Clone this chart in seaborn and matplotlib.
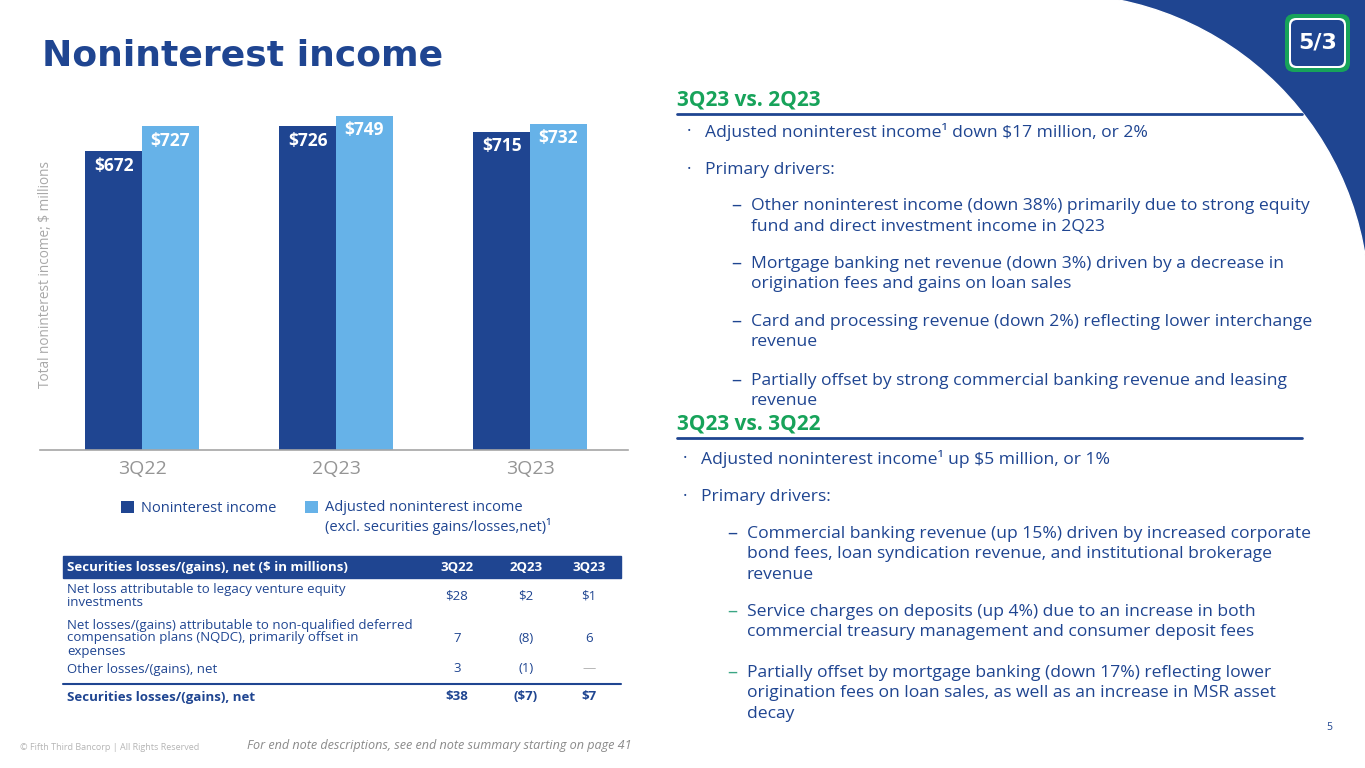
import numpy as np
import pandas as pd
import matplotlib
matplotlib.use('Agg')
import matplotlib.pyplot as plt
import seaborn as sns
from matplotlib.patches import Rectangle, Circle, FancyBboxPatch

# --- data -------------------------------------------------------------
quarters = ['3Q22', '2Q23', '3Q23']
noninterest_income = [672, 726, 715]
adjusted_income = [727, 749, 732]
# trailing newline on the first name keeps both legend entries top-aligned
series_names = ['Noninterest income\n ',
                'Adjusted noninterest income\n(excl. securities gains/losses,net)¹']

table_header = 'Securities losses/(gains), net ($ in millions)'
table_cols = ['3Q22', '2Q23', '3Q23']
table_rows = [
    ['Net loss attributable to legacy venture equity', 'investments'],
    ['Net losses/(gains) attributable to non-qualified deferred',
     'compensation plans (NQDC), primarily offset in', 'expenses'],
    ['Other losses/(gains), net'],
]
table_values = [['$28', '$2', '$1'], ['7', '(8)', '6'], ['3', '(1)', '—']]
total_label = 'Securities losses/(gains), net'
table_total = ['$38', '($7)', '$7']

sec1_title = '3Q23 vs. 2Q23'
sec1_items = [
    ('bullet', ['Adjusted noninterest income¹ down $17 million, or 2%']),
    ('bullet', ['Primary drivers:']),
    ('dash', ['Other noninterest income (down 38%) primarily due to strong equity',
              'fund and direct investment income in 2Q23']),
    ('dash', ['Mortgage banking net revenue (down 3%) driven by a decrease in',
              'origination fees and gains on loan sales']),
    ('dash', ['Card and processing revenue (down 2%) reflecting lower interchange',
              'revenue']),
    ('dash', ['Partially offset by strong commercial banking revenue and leasing',
              'revenue']),
]
sec1_y = [132, 170, 206, 264, 322, 381]

sec2_title = '3Q23 vs. 3Q22'
sec2_items = [
    ('bullet', ['Adjusted noninterest income¹ up $5 million, or 1%']),
    ('bullet', ['Primary drivers:']),
    ('dash', ['Commercial banking revenue (up 15%) driven by increased corporate',
              'bond fees, loan syndication revenue, and institutional brokerage',
              'revenue']),
    ('dash2', ['Service charges on deposits (up 4%) due to an increase in both',
               'commercial treasury management and consumer deposit fees']),
    ('dash2', ['Partially offset by mortgage banking (down 17%) reflecting lower',
               'origination fees on loan sales, as well as an increase in MSR asset',
               'decay']),
]
sec2_y = [459, 497, 534, 612, 673]

# --- style ------------------------------------------------------------
DARK = '#1f4591'
LIGHT = '#66b2e8'
GREEN = '#17a35a'
TEAL = '#3aa684'
GRAY = '#8a8a8a'

sns.set_theme(style='white')
plt.rcParams['font.family'] = ['Open Sans', 'DejaVu Sans']

W, H = 1365, 768
fig = plt.figure(figsize=(W / 100, H / 100), dpi=100)

# background axes in pixel units for slide decoration and text
bg = fig.add_axes([0, 0, 1, 1], zorder=0)
bg.set_xlim(0, W)
bg.set_ylim(H, 0)
bg.axis('off')

# blue corner cut by a big white arc
bg.add_patch(Rectangle((1100, 0), 265, 262, color=DARK, zorder=1))
bg.add_patch(Circle((1058, 305), 311, color='white', zorder=2))

# logo
bg.add_patch(FancyBboxPatch((1285, 14), 65, 58, boxstyle='round,pad=0,rounding_size=9',
                            fc=GREEN, ec='none', zorder=3))
bg.add_patch(FancyBboxPatch((1289, 18), 57, 50, boxstyle='round,pad=0,rounding_size=7',
                            fc='white', ec='none', zorder=3))
bg.add_patch(FancyBboxPatch((1291, 20), 53, 46, boxstyle='round,pad=0,rounding_size=6',
                            fc=DARK, ec='none', zorder=3))
bg.text(1318, 43, '5/3', color='white', fontsize=16, fontweight='bold',
        family='DejaVu Sans', ha='center', va='center', zorder=4)

# title
bg.text(42, 55, 'Noninterest income', color=DARK, fontsize=26, fontweight='bold',
        family='DejaVu Sans', ha='left', va='center', zorder=5)

# --- bar chart --------------------------------------------------------
df = pd.DataFrame({
    'quarter': quarters * 2,
    'series': [series_names[0]] * 3 + [series_names[1]] * 3,
    'value': noninterest_income + adjusted_income,
})

ax = fig.add_axes([40 / W, 1 - 450 / H, 588 / W, 350 / H], zorder=2)
ax.patch.set_alpha(0)
sns.barplot(data=df, x='quarter', y='value', hue='series', palette=[DARK, LIGHT],
            width=0.585, gap=0, saturation=1, errorbar=None, linewidth=0, ax=ax)
ax.set_xlim(-0.526, 2.505)
ax.set_ylim(28, 783)
ax.set_yticks([])
ax.set_xlabel('')
ax.set_ylabel('Total noninterest income; $ millions', color='#a8a8a8', fontsize=9.8)
ax.yaxis.set_label_coords(0.022, 0.5)
for s in ['top', 'right', 'left']:
    ax.spines[s].set_visible(False)
ax.spines['bottom'].set_color('#a6a6a6')
ax.spines['bottom'].set_linewidth(1.2)
ax.tick_params(axis='x', length=0, labelsize=14, labelcolor='#959595', pad=7)

for cont in ax.containers:
    for bar in cont:
        h = bar.get_height()
        ax.annotate(f'${h:.0f}', xy=(bar.get_x() + bar.get_width() / 2, h),
                    xytext=(0, -10.5), textcoords='offset points',
                    ha='center', va='center', color='white', fontsize=12.5,
                    fontweight='bold')

handles, labels = ax.get_legend_handles_labels()
leg = ax.legend(handles, labels, loc='upper left', bbox_to_anchor=(121 / W, 1 - 500 / H),
                bbox_transform=fig.transFigure, ncol=2, frameon=False, fontsize=10.5,
                labelcolor=DARK, handlelength=0.9, handleheight=0.9,
                handletextpad=0.5, columnspacing=1.9, borderpad=0, borderaxespad=0)
# keep the squares level with the first line of text
for hb in leg.legend_handles:
    hb.set_y(hb.get_y() + 7.5)

# --- table ------------------------------------------------------------
col_x = [457, 526, 589]
bg.add_patch(Rectangle((63, 556), 558, 22, color=DARK, zorder=3))
bg.text(67, 567.5, table_header, color='white', fontsize=9.5, fontweight='bold',
        va='center', zorder=4)
for cx, c in zip(col_x, table_cols):
    bg.text(cx, 567.5, c, color='white', fontsize=9.5, fontweight='bold',
            ha='center', va='center', zorder=4)

row_top = [590, 625, 669]
for lines, vals, y0 in zip(table_rows, table_values, row_top):
    for i, ln in enumerate(lines):
        bg.text(67, y0 + i * 13, ln, color=DARK, fontsize=9.5, va='center', zorder=4)
    ymid = y0 + (len(lines) - 1) * 13 / 2
    for cx, v in zip(col_x, vals):
        bg.text(cx, ymid, v, color='#b0b0b0' if v == '—' else DARK, fontsize=9.5,
                ha='center', va='center', zorder=4)
bg.plot([63, 621], [684, 684], color=DARK, lw=1.5, zorder=4)
bg.text(67, 697, total_label, color=DARK, fontsize=9.5, fontweight='bold',
        va='center', zorder=4)
for cx, v in zip(col_x, table_total):
    bg.text(cx, 697, v, color=DARK, fontsize=9.5, fontweight='bold',
            ha='center', va='center', zorder=4)

# --- commentary -------------------------------------------------------
FS = 12.6


def section(title, head_y, items, ys, shift=0):
    bg.text(677, head_y, title, color=GREEN, fontsize=15, fontweight='bold',
            va='center', zorder=5)
    bg.plot([677, 1302], [head_y + 13.5, head_y + 13.5], color=DARK, lw=2, zorder=5)
    for (kind, lines), y in zip(items, ys):
        if kind == 'bullet':
            bg.text(687 + shift, y, '·', color=DARK, fontsize=FS, va='center', zorder=5)
            tx = 705 + shift
        else:
            bg.text(731 + shift, y, '–', color=TEAL if kind == 'dash2' else DARK,
                    fontsize=FS + 2, va='center', zorder=5)
            tx = 751 + shift
        for i, ln in enumerate(lines):
            bg.text(tx, y + i * 20.3, ln, color=DARK, fontsize=FS, va='center', zorder=5)


section(sec1_title, 100, sec1_items, sec1_y)
section(sec2_title, 424, sec2_items, sec2_y, shift=-4)

bg.text(1329, 728, '5', color=DARK, fontsize=7.5, ha='center', va='center')
bg.text(20, 748, '© Fifth Third Bancorp | All Rights Reserved', color='#b5b5b5',
        fontsize=6.5, va='center')
bg.text(247, 746, 'For end note descriptions, see end note summary starting on page 41',
        color=GRAY, fontsize=9.1, style='italic', va='center')

fig.savefig('out.png', dpi=100)
